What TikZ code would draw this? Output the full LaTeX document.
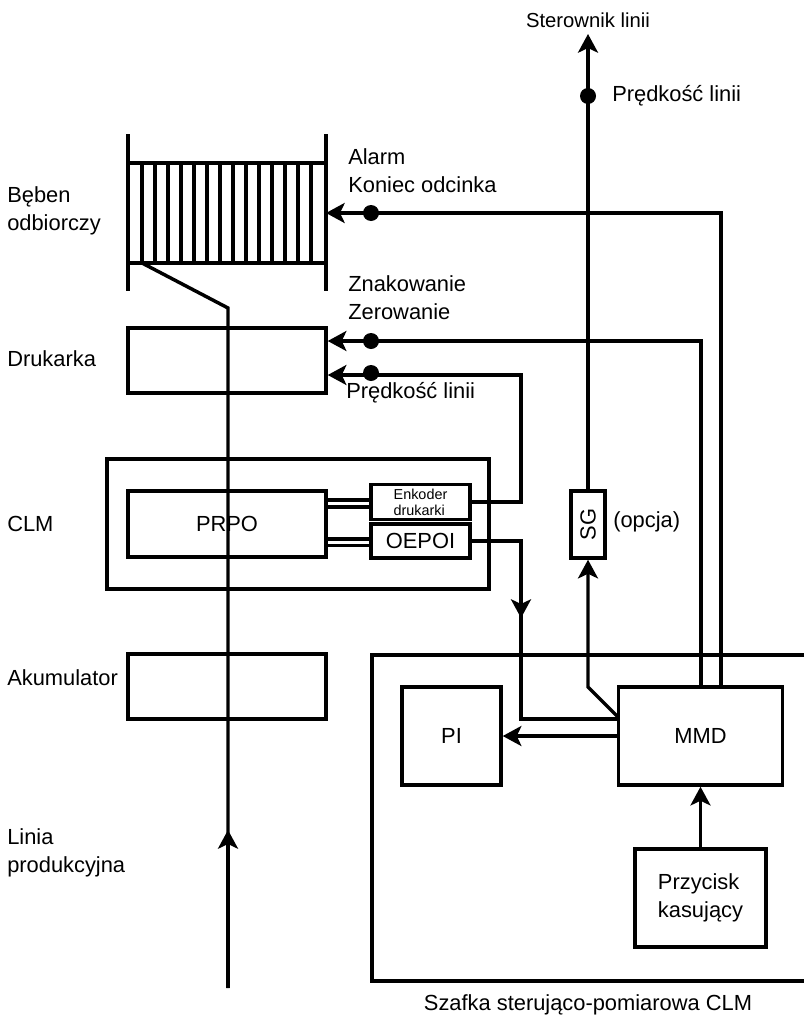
\documentclass[tikz,border=0pt]{standalone}
\usepackage{fontspec}
\setmainfont{Liberation Sans}
\usetikzlibrary{arrows.meta}

\begin{document}
\begin{tikzpicture}[
    x=0.75pt, y=-0.75pt,
    >={Stealth[length=14pt, width=15pt, inset=3.5pt]},
    wire/.style={line width=2.6pt, line join=miter},
    box/.style={draw, line width=2.6pt, inner sep=0pt, align=center, font=\fontsize{16.4}{21}\selectfont},
    label/.style={anchor=west, inner sep=0pt, align=left, font=\fontsize{16.4}{21}\selectfont},
    dot/.style={circle, fill=black, minimum size=12pt, inner sep=0pt}
]
\useasboundingbox (0,0) rectangle (804,1017);

% Beben odbiorczy
\coordinate (bebenTL) at (128,163);
\coordinate (bebenTR) at (326,163);
\coordinate (bebenBL) at (128,263);
\coordinate (bebenBR) at (326,263);
\draw[wire] (128,134) -- (128,291);
\draw[wire] (326,134) -- (326,291);
\draw[wire] (bebenTL) -- (bebenTR);
\draw[wire] (bebenBL) -- (bebenBR);
\foreach \x in {142,155,168,181,194,207,220,233,246,259,272,285,298,311} {
    \draw[wire] (\x,161) -- (\x,265);
}
\coordinate (bebenE) at (326,213);

% Bloki
\node[box, minimum width=148.5pt, minimum height=48.75pt] (drukarka) at (227,360.5) {};
\node[box, minimum width=286.5pt, minimum height=97.5pt] (clm) at (298,524) {};
\node[box, minimum width=148.5pt, minimum height=49.5pt] (prpo) at (227,524) {PRPO};
\node[box, minimum width=74.25pt, minimum height=26.25pt, font=\fontsize{10.8}{12}\selectfont, align=left] (enkoder) at (420.5,502) {Enkoder\\drukarki};
\node[box, minimum width=74.25pt, minimum height=25.5pt] (oepoi) at (420.5,541) {OEPOI};
\node[box, minimum width=148.5pt, minimum height=48.75pt] (akumulator) at (227,686.5) {};
\node[box, minimum width=25.5pt, minimum height=50.25pt] (sg) at (588,524.5) {\rotatebox{90}{SG}};
\node[box, minimum width=74.25pt, minimum height=73.5pt] (pi) at (451.5,736) {PI};
\node[box, minimum width=123pt, minimum height=73.5pt] (mmd) at (700.5,736) {MMD};
\node[box, minimum width=98.25pt, minimum height=73.5pt, align=left] (przycisk) at (700.5,898) {Przycisk\\kasujący};

% Szafka (otwarta z prawej)
\coordinate (szafkaTR) at (804,655);
\coordinate (szafkaTL) at (372,655);
\coordinate (szafkaBL) at (372,981);
\coordinate (szafkaBR) at (804,981);
\draw[wire] (szafkaTR) -- (szafkaTL) -- (szafkaBL) -- (szafkaBR);

% Linia produkcyjna
\coordinate (liniaStart) at (228,988);
\coordinate (liniaStrzalka) at (228,830);
\coordinate (liniaZalom) at (228,308);
\coordinate (liniaKoniec) at (142,263);
\draw[wire] (liniaStart) -- (liniaZalom) -- (liniaKoniec);
\draw[wire,->] (liniaStart) -- (liniaStrzalka);

% Polaczenia podwojne
\foreach \y in {500,507,539,545.5} {
    \draw[line width=2.5pt] (prpo.east |- 0,\y) -- (enkoder.west |- 0,\y);
}

% Sygnaly do bebna i drukarki
\coordinate (alarmZalom) at (721,213);
\coordinate (znakZalom) at (701,341);
\coordinate (predkZalom) at (521,375);
\draw[wire,->] (alarmZalom |- mmd.north) -- (alarmZalom) -- (bebenE);
\draw[wire,->] (znakZalom |- mmd.north) -- (znakZalom) -- (znakZalom -| drukarka.east);
\draw[wire,->] (enkoder.east) -- (predkZalom |- enkoder.east) -- (predkZalom) -- (predkZalom -| drukarka.east);
\node[dot] (dotAlarm) at (371,213) {};
\node[dot] (dotZnak) at (371,341) {};
\node[dot] (dotPredk) at (371,373) {};

% OEPOI do MMD
\coordinate (oepoiZalom) at (521,541);
\coordinate (oepoiStrzalka) at (521,618);
\coordinate (mmdWe) at (521,719);
\draw[wire] (oepoi.east) -- (oepoiZalom) -- (mmdWe) -- (mmdWe -| mmd.west);
\draw[wire,->] (oepoiZalom) -- (oepoiStrzalka);

% MMD do PI, SG
\draw[wire,->] (mmd.west) -- (pi.east);
\coordinate (sgZalom) at (588,687);
\coordinate (sgWe) at (618,717);
\draw[wire,->] (sgWe) -- (sgZalom) -- (sg.south);
\draw[wire,->] (przycisk.north) -- (mmd.south);

% Sterownik linii
\node[label, anchor=center, font=\fontsize{15.2}{21}\selectfont] (sterownik) at (588,20) {Sterownik linii};
\coordinate (sterownikWe) at (588,34);
\draw[wire,->] (sg.north) -- (sterownikWe);
\node[dot] (dotSter) at (588,96) {};

% Etykiety
\node[label] (lbeben) at (7,211) {Bęben\\odbiorczy};
\node[label] (lalarm) at (348,171) {Alarm\\Koniec odcinka};
\node[label] (lznak) at (348,298) {Znakowanie\\Zerowanie};
\node[label] (lpredk) at (346,393) {Prędkość linii};
\node[label] (lpredkSter) at (612,96) {Prędkość linii};
\node[label] (ldruk) at (7,359) {Drukarka};
\node[label] (lclm) at (7,524) {CLM};
\node[label] (lakum) at (7,678) {Akumulator};
\node[label] (llinia) at (7,853) {Linia\\produkcyjna};
\node[label] (lopcja) at (613,522) {(opcja)};
\node[label, anchor=center] (lszafka) at (588,1005) {Szafka sterująco-pomiarowa CLM};

\end{tikzpicture}
\end{document}
